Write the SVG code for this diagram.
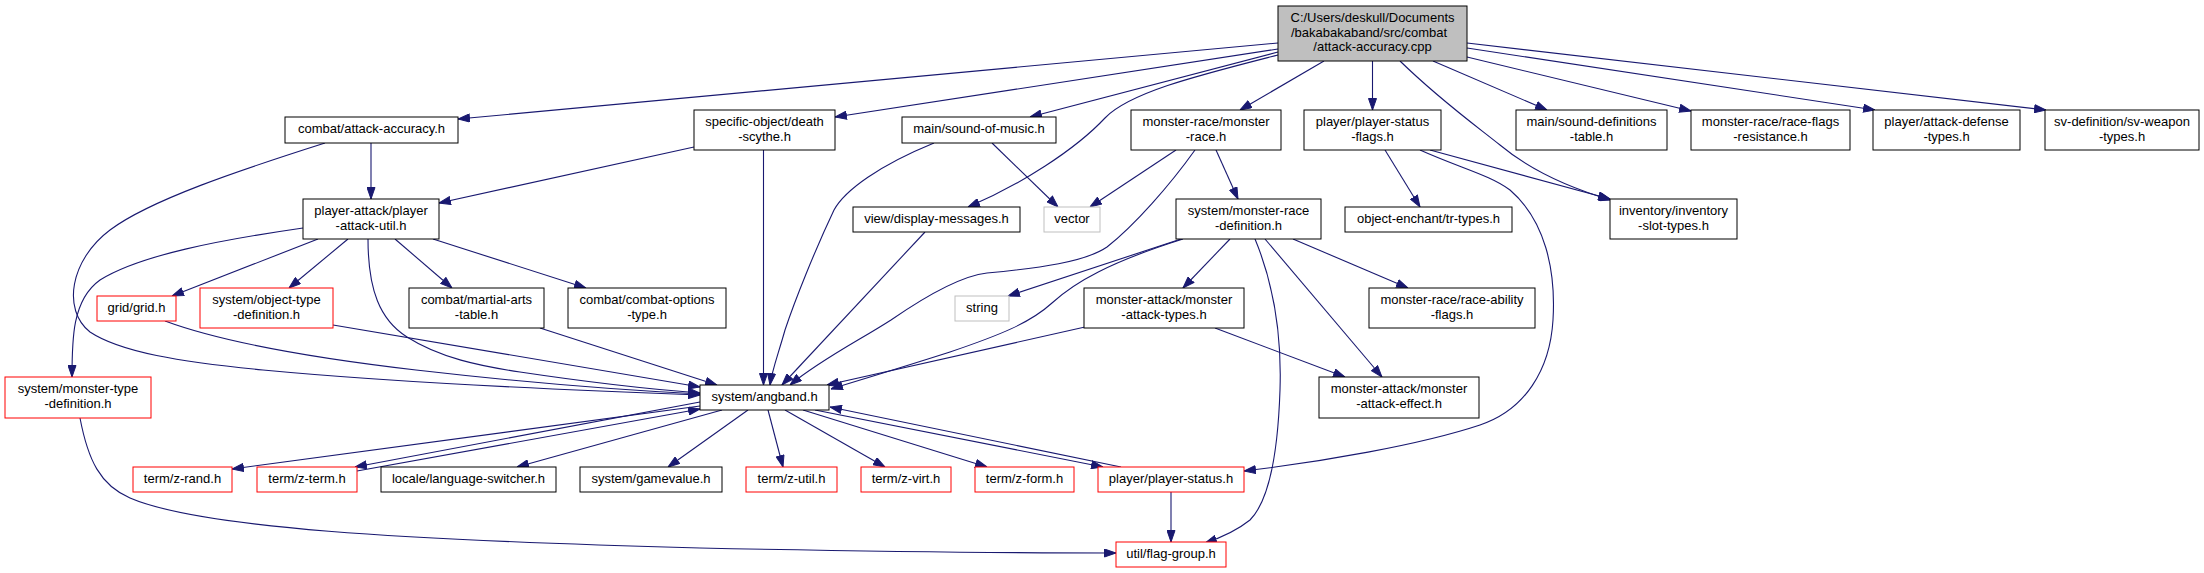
<svg xmlns="http://www.w3.org/2000/svg" width="2204" height="573" viewBox="0 0 2204 573">
<style>
.nd rect{fill:#fff;stroke:#000;stroke-width:1}
.nd.red rect{stroke:#ff0000}
.nd.sys rect{stroke:#bfbfbf}
.nd.root rect{fill:#bfbfbf}
.nd text{font-family:"Liberation Sans",Arial,Helvetica,sans-serif;font-size:13px;text-anchor:middle;fill:#000}
#edges path{fill:none;stroke:#191970;stroke-width:1.1;marker-end:url(#arr)}
</style>
<defs>
<marker id="arr" viewBox="0 0 12 9" refX="12" refY="4.5" markerWidth="12" markerHeight="9" orient="auto" markerUnits="userSpaceOnUse">
<path d="M0.5,0.5 L12,4.5 L0.5,8.5 z" fill="#191970" stroke="#191970" stroke-width="1"/>
</marker>
</defs>
<rect width="2204" height="573" fill="#fff"/>
<g id="edges">
<path d="M1278,43 L458,119"/>
<path d="M1278,49 L835,117"/>
<path d="M1278,52 L1030,117"/>
<path d="M1278,55 C1200,75 1130,92 1105,118 C1075,150 1020,185 968,207"/>
<path d="M1324,61 L1240,110"/>
<path d="M1372.5,61 L1372.5,110"/>
<path d="M1400,61 C1440,100 1475,125 1500,145 C1530,170 1570,188 1611,200"/>
<path d="M1433,61 L1547,110"/>
<path d="M1467,57 L1691,111"/>
<path d="M1467,48 L1875,110"/>
<path d="M1467,43 L2046,110"/>
<path d="M1385,150 L1420,207"/>
<path d="M1430,150 L1610,199"/>
<path d="M1420,150 C1460,168 1490,175 1510,190 C1545,220 1556,270 1553,320 C1550,370 1525,410 1480,425 C1420,445 1320,462 1244,471"/>
<path d="M371,143 L371,199"/>
<path d="M325,143 C240,170 150,200 110,230 C70,260 62,310 90,332 C120,352 180,362 263,370 C400,383 560,390 700,395"/>
<path d="M694,147 L439,203"/>
<path d="M763.5,150 L763.5,385"/>
<path d="M992,143 L1058,207"/>
<path d="M934,143 C880,165 845,190 834,210 C815,250 795,300 785,330 C778,355 772,370 770,385"/>
<path d="M1176,150 L1090,207"/>
<path d="M1195,150 C1170,185 1135,225 1107,247 C1085,262 1040,268 987,273 C960,276 920,300 891,320 C860,340 820,360 790,385"/>
<path d="M1216,150 L1238,199"/>
<path d="M303,228 C220,240 140,255 100,280 C72,300 72,340 72,377"/>
<path d="M318,239 L172,296"/>
<path d="M348,239 L289,288"/>
<path d="M395,239 L452,288"/>
<path d="M433,239 L586,288"/>
<path d="M368,239 C368,290 380,320 407,337 C440,358 480,366 520,372 C600,384 660,390 700,393"/>
<path d="M165,321 C230,345 330,360 416,370 C520,382 620,390 700,394"/>
<path d="M333,325 L700,387"/>
<path d="M540,328 L717,385"/>
<path d="M925,232 L782,385"/>
<path d="M1181,239 L1008,296"/>
<path d="M1183,239 C1110,262 1075,282 1052,303 C1030,323 1000,335 950,352 C900,368 860,380 831,389"/>
<path d="M1230,239 L1183,288"/>
<path d="M1255,239 C1272,280 1282,330 1280,390 C1278,450 1270,500 1250,520 C1235,532 1220,538 1205,543"/>
<path d="M1265,239 L1382,377"/>
<path d="M1293,239 L1408,288"/>
<path d="M1085,327 L827,385"/>
<path d="M1215,328 L1345,377"/>
<path d="M80,418 C88,460 100,485 130,498 C200,528 400,540 700,548 C900,552 1050,553 1116,553"/>
<path d="M700,406 L232,469"/>
<path d="M700,402 L355,467"/>
<path d="M357,471 L700,409"/>
<path d="M722,410 L517,467"/>
<path d="M748,410 L668,467"/>
<path d="M768,410 L783,467"/>
<path d="M785,410 L885,467"/>
<path d="M803,410 L987,467"/>
<path d="M815,410 L1103,467"/>
<path d="M1121,467 L830,407"/>
<path d="M1171,492 L1171,542"/>
</g>
<g id="n0" class="nd root"><rect x="1278" y="6" width="189" height="55"/><text x="1372.5" y="22">C:/Users/deskull/Documents</text><text x="1369" y="36.5">/bakabakaband/src/combat</text><text x="1372.5" y="51">/attack-accuracy.cpp</text></g>
<g id="n1" class="nd"><rect x="285" y="117" width="173" height="26"/><text x="371.5" y="133">combat/attack-accuracy.h</text></g>
<g id="n2" class="nd"><rect x="694" y="110" width="141" height="40"/><text x="764.5" y="126">specific-object/death</text><text x="764.5" y="140.5">-scythe.h</text></g>
<g id="n3" class="nd"><rect x="902" y="117" width="154" height="26"/><text x="979" y="133">main/sound-of-music.h</text></g>
<g id="n4" class="nd"><rect x="1131" y="110" width="150" height="40"/><text x="1206" y="126">monster-race/monster</text><text x="1206" y="140.5">-race.h</text></g>
<g id="n5" class="nd"><rect x="1304" y="110" width="137" height="40"/><text x="1372.5" y="126">player/player-status</text><text x="1372.5" y="140.5">-flags.h</text></g>
<g id="n6" class="nd"><rect x="1516" y="110" width="151" height="40"/><text x="1591.5" y="126">main/sound-definitions</text><text x="1591.5" y="140.5">-table.h</text></g>
<g id="n7" class="nd"><rect x="1691" y="110" width="159" height="40"/><text x="1770.5" y="126">monster-race/race-flags</text><text x="1770.5" y="140.5">-resistance.h</text></g>
<g id="n8" class="nd"><rect x="1873" y="110" width="147" height="40"/><text x="1946.5" y="126">player/attack-defense</text><text x="1946.5" y="140.5">-types.h</text></g>
<g id="n9" class="nd"><rect x="2045" y="110" width="154" height="40"/><text x="2122" y="126">sv-definition/sv-weapon</text><text x="2122" y="140.5">-types.h</text></g>
<g id="n10" class="nd"><rect x="303" y="199" width="136" height="40"/><text x="371" y="215">player-attack/player</text><text x="371" y="229.5">-attack-util.h</text></g>
<g id="n11" class="nd"><rect x="853" y="207" width="167" height="25"/><text x="936.5" y="223">view/display-messages.h</text></g>
<g id="n12" class="nd sys"><rect x="1044" y="207" width="56" height="25"/><text x="1072" y="223">vector</text></g>
<g id="n13" class="nd"><rect x="1176" y="199" width="145" height="40"/><text x="1248.5" y="215">system/monster-race</text><text x="1248.5" y="229.5">-definition.h</text></g>
<g id="n14" class="nd"><rect x="1345" y="207" width="167" height="25"/><text x="1428.5" y="223">object-enchant/tr-types.h</text></g>
<g id="n15" class="nd"><rect x="1610" y="199" width="127" height="40"/><text x="1673.5" y="215">inventory/inventory</text><text x="1673.5" y="229.5">-slot-types.h</text></g>
<g id="n16" class="nd red"><rect x="97" y="296" width="79" height="25"/><text x="136.5" y="312">grid/grid.h</text></g>
<g id="n17" class="nd red"><rect x="200" y="288" width="133" height="40"/><text x="266.5" y="304">system/object-type</text><text x="266.5" y="318.5">-definition.h</text></g>
<g id="n18" class="nd"><rect x="409" y="288" width="135" height="40"/><text x="476.5" y="304">combat/martial-arts</text><text x="476.5" y="318.5">-table.h</text></g>
<g id="n19" class="nd"><rect x="568" y="288" width="158" height="40"/><text x="647" y="304">combat/combat-options</text><text x="647" y="318.5">-type.h</text></g>
<g id="n20" class="nd sys"><rect x="955" y="296" width="54" height="25"/><text x="982" y="312">string</text></g>
<g id="n21" class="nd"><rect x="1084" y="288" width="160" height="40"/><text x="1164" y="304">monster-attack/monster</text><text x="1164" y="318.5">-attack-types.h</text></g>
<g id="n22" class="nd"><rect x="1369" y="288" width="166" height="40"/><text x="1452" y="304">monster-race/race-ability</text><text x="1452" y="318.5">-flags.h</text></g>
<g id="n23" class="nd red"><rect x="5" y="377" width="146" height="41"/><text x="78" y="393">system/monster-type</text><text x="78" y="407.5">-definition.h</text></g>
<g id="n24" class="nd"><rect x="700" y="385" width="129" height="25"/><text x="764.5" y="401">system/angband.h</text></g>
<g id="n25" class="nd"><rect x="1319" y="377" width="160" height="41"/><text x="1399" y="393">monster-attack/monster</text><text x="1399" y="407.5">-attack-effect.h</text></g>
<g id="n26" class="nd red"><rect x="133" y="467" width="99" height="25"/><text x="182.5" y="483">term/z-rand.h</text></g>
<g id="n27" class="nd red"><rect x="257" y="467" width="100" height="25"/><text x="307" y="483">term/z-term.h</text></g>
<g id="n28" class="nd"><rect x="381" y="467" width="175" height="25"/><text x="468.5" y="483">locale/language-switcher.h</text></g>
<g id="n29" class="nd"><rect x="580" y="467" width="142" height="25"/><text x="651" y="483">system/gamevalue.h</text></g>
<g id="n30" class="nd red"><rect x="746" y="467" width="91" height="25"/><text x="791.5" y="483">term/z-util.h</text></g>
<g id="n31" class="nd red"><rect x="861" y="467" width="90" height="25"/><text x="906" y="483">term/z-virt.h</text></g>
<g id="n32" class="nd red"><rect x="975" y="467" width="99" height="25"/><text x="1024.5" y="483">term/z-form.h</text></g>
<g id="n33" class="nd red"><rect x="1098" y="467" width="146" height="25"/><text x="1171" y="483">player/player-status.h</text></g>
<g id="n34" class="nd red"><rect x="1116" y="542" width="110" height="25"/><text x="1171" y="558">util/flag-group.h</text></g>
</svg>
